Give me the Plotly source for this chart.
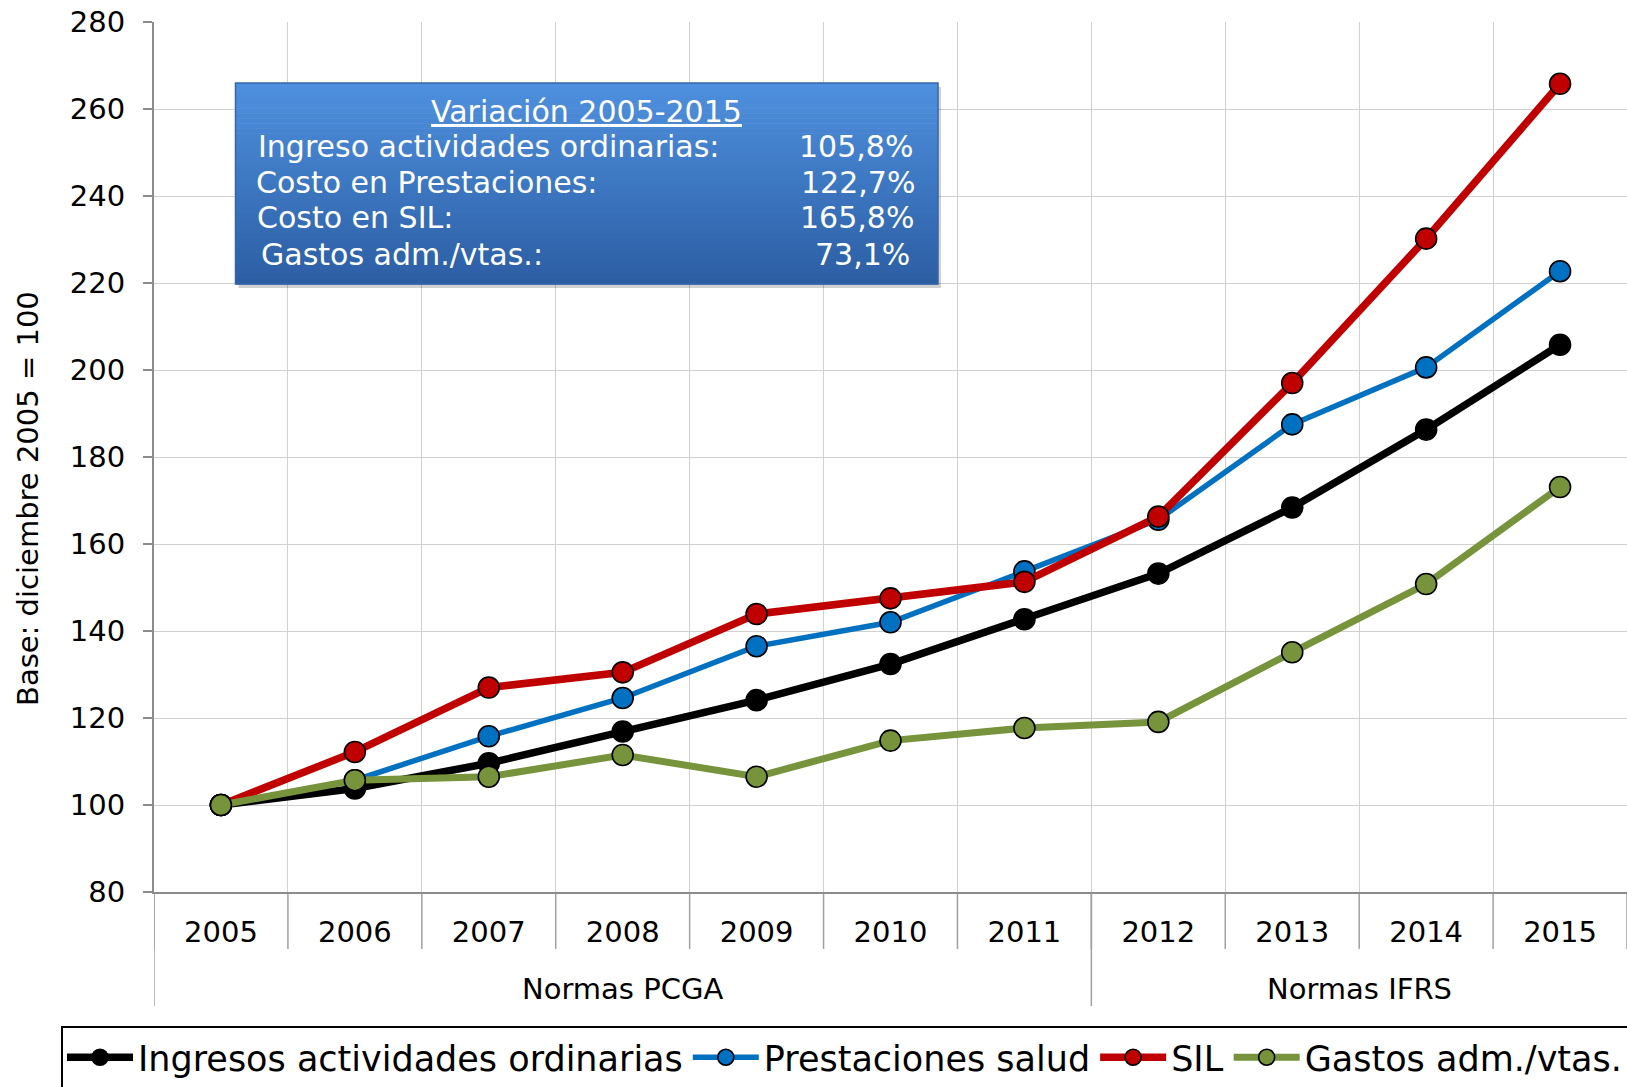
import plotly.graph_objects as go

years = ["2005", "2006", "2007", "2008", "2009", "2010", "2011", "2012", "2013", "2014", "2015"]
ingresos = [100, 103.8, 109.6, 116.9, 124.1, 132.4, 142.7, 153.2, 168.4, 186.3, 205.8]
prestaciones = [100, 105.7, 115.8, 124.6, 136.5, 142.0, 153.7, 165.6, 187.5, 200.6, 222.7]
sil = [100, 112.2, 127.0, 130.5, 143.9, 147.5, 151.3, 166.3, 197.0, 230.2, 265.8]
gastos = [100, 105.7, 106.5, 111.5, 106.5, 114.8, 117.7, 119.1, 135.1, 150.8, 173.1]

series_names = ["Ingresos actividades ordinarias", "Prestaciones salud", "SIL", "Gastos adm./vtas."]
group_labels = ["Normas PCGA", "Normas IFRS"]
group_sizes = [7, 4]

box_title = "Variación 2005-2015"
box_labels = ["Ingreso actividades ordinarias:", "Costo en Prestaciones:", "Costo en SIL:", "Gastos adm./vtas.:"]
box_values = ["105,8%", "122,7%", "165,8%", "73,1%"]

y_title = "Base: diciembre 2005 = 100"

FONT = "DejaVu Sans"
colors = ["#000000", "#0070C0", "#C00000", "#77933C"]
widths = [7.5, 5.5, 7.5, 7]
data = [ingresos, prestaciones, sil, gastos]

fig = go.Figure()
for name, vals, c, w in zip(series_names, data, colors, widths):
    fig.add_trace(go.Scatter(
        x=years, y=vals, name=name, mode="lines+markers",
        line=dict(color=c, width=w),
        marker=dict(size=21, color=c, line=dict(color="#000000", width=1.6)),
    ))

W, H = 1627, 1087
L, R, T, B = 154, 0, 22, 195
pw, ph = W - L - R, H - T - B

def px_x(p):
    return (p - L) / pw

def px_y(p):
    return (H - B - p) / ph

shapes = []
# gradient text box: shadow
bx0, bx1, by0, by1 = 235.5, 938, 83, 284
shapes.append(dict(type="rect", xref="paper", yref="paper",
                   x0=px_x(bx0 + 3), x1=px_x(bx1 + 3), y0=px_y(by1 + 4), y1=px_y(by0 + 4),
                   fillcolor="rgba(0,0,0,0.18)", line=dict(width=0), layer="above"))
n = 40
top = (78, 144, 222)
bot = (44, 94, 164)
for i in range(n):
    t = i / (n - 1)
    col = tuple(int(round(top[k] + (bot[k] - top[k]) * t)) for k in range(3))
    ya = by0 + (by1 - by0) * i / n
    yb = by0 + (by1 - by0) * (i + 1) / n
    shapes.append(dict(type="rect", xref="paper", yref="paper",
                       x0=px_x(bx0), x1=px_x(bx1), y0=px_y(yb + 0.6), y1=px_y(ya),
                       fillcolor="rgb(%d,%d,%d)" % col, line=dict(width=0), layer="above"))
shapes.append(dict(type="rect", xref="paper", yref="paper",
                   x0=px_x(bx0), x1=px_x(bx1), y0=px_y(by1), y1=px_y(by0),
                   fillcolor="rgba(0,0,0,0)", line=dict(color="#3566AA", width=1.5), layer="above"))

# category boundary tick lines below axis
ncat = len(years)
for k in range(ncat + 1):
    shapes.append(dict(type="line", xref="x", yref="paper",
                       x0=k - 0.5, x1=k - 0.5, y0=0, y1=px_y(949),
                       line=dict(color="#A0A0A0", width=1.5), layer="below"))
# group dividers
pos = -0.5
for s in group_sizes:
    shapes.append(dict(type="line", xref="x", yref="paper",
                       x0=pos, x1=pos, y0=0, y1=px_y(1006),
                       line=dict(color="#A0A0A0", width=1.5), layer="below"))
    pos += s

# legend frame
shapes.append(dict(type="rect", xref="paper", yref="paper",
                   x0=px_x(62), x1=px_x(W + 20), y0=px_y(H + 20), y1=px_y(1027),
                   fillcolor="rgba(0,0,0,0)", line=dict(color="#000000", width=2)))

annotations = []
# group labels
start = 0
for g, s in zip(group_labels, group_sizes):
    annotations.append(dict(x=start + (s - 1) / 2, y=px_y(989), xref="x", yref="paper",
                            text=g, showarrow=False, xanchor="center", yanchor="middle",
                            font=dict(family=FONT, size=29, color="#000000")))
    start += s

# y axis title
annotations.append(dict(x=px_x(28), y=px_y(499), xref="paper", yref="paper",
                        text=y_title, textangle=-90, showarrow=False,
                        xanchor="center", yanchor="middle",
                        font=dict(family=FONT, size=29, color="#000000")))

# box text
annotations.append(dict(x=px_x(586), y=px_y(111), xref="paper", yref="paper",
                        text="<u>" + box_title + "</u>", showarrow=False,
                        xanchor="center", yanchor="middle",
                        font=dict(family=FONT, size=30, color="#FFFFFF")))
row_y = [146, 183, 218, 254]
row_lx = [256, 254, 255, 259]
row_rx = [915, 917, 916, 912]
for lab, val, yy, lx, rx in zip(box_labels, box_values, row_y, row_lx, row_rx):
    annotations.append(dict(x=px_x(lx), y=px_y(yy), xref="paper", yref="paper",
                            text=lab, showarrow=False, xanchor="left", yanchor="middle",
                            font=dict(family=FONT, size=30, color="#FFFFFF")))
    annotations.append(dict(x=px_x(rx), y=px_y(yy), xref="paper", yref="paper",
                            text=val, showarrow=False, xanchor="right", yanchor="middle",
                            font=dict(family=FONT, size=30, color="#FFFFFF")))

fig.update_layout(
    width=W, height=H,
    margin=dict(l=L, r=R, t=T, b=B),
    paper_bgcolor="#FFFFFF", plot_bgcolor="#FFFFFF",
    font=dict(family=FONT, size=29, color="#000000"),
    showlegend=True,
    legend=dict(orientation="h", xref="paper", yref="paper",
                x=px_x(66), y=px_y(1028), xanchor="left", yanchor="top",
                borderwidth=0, bgcolor="rgba(0,0,0,0)",
                font=dict(family=FONT, size=35, color="#000000"),
                itemwidth=66, tracegroupgap=0),
    shapes=shapes,
    annotations=annotations,
)
fig.update_xaxes(type="category", tickson="boundaries", showgrid=True,
                 gridcolor="#D0D0D0", gridwidth=1,
                 ticks="outside", ticklen=20, tickcolor="rgba(0,0,0,0)",
                 showline=True, linecolor="#8C8C8C", linewidth=2,
                 tickfont=dict(family=FONT, size=29, color="#000000"),
                 ticklabelstandoff=13,
                 range=[-0.5, 10.5], zeroline=False)
fig.update_yaxes(range=[80, 280], dtick=20, showgrid=True, gridcolor="#D0D0D0", gridwidth=1,
                 ticks="outside", ticklen=9, tickcolor="#8C8C8C", tickwidth=1.5,
                 showline=True, linecolor="#8C8C8C", linewidth=2,
                 tickfont=dict(family=FONT, size=29, color="#000000"),
                 ticklabelstandoff=12, zeroline=False)

fig.write_html("out.html", config={"displayModeBar": False},
               post_script="document.body.style.margin='0';document.body.style.overflow='hidden';")
